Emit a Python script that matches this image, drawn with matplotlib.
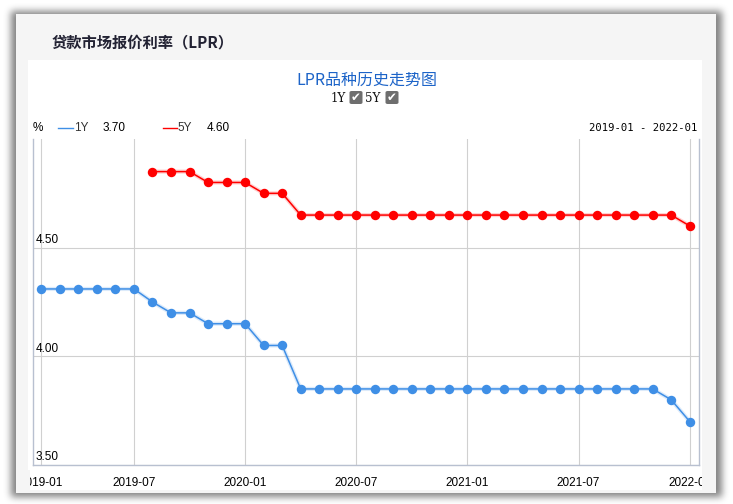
# LPR history chart (1Y / 5Y)

import numpy as np
import matplotlib
matplotlib.use('Agg')
from matplotlib import pyplot as plt
from matplotlib.patches import Rectangle, FancyBboxPatch

plt.rcParams['font.family'] = ['Liberation Sans', 'Noto Sans CJK SC', 'DejaVu Sans']

# data: one point per published month, equally spaced on the axis
dates = ['2019-01', '2019-02', '2019-03', '2019-04', '2019-05', '2019-07',
         '2019-08', '2019-09', '2019-10', '2019-11', '2019-12',
         '2020-01', '2020-02', '2020-03', '2020-04', '2020-05', '2020-06',
         '2020-07', '2020-08', '2020-09', '2020-10', '2020-11', '2020-12',
         '2021-01', '2021-02', '2021-03', '2021-04', '2021-05', '2021-06',
         '2021-07', '2021-08', '2021-09', '2021-10', '2021-11', '2021-12',
         '2022-01']
lpr_1y = [4.31, 4.31, 4.31, 4.31, 4.31, 4.31,
          4.25, 4.20, 4.20, 4.15, 4.15,
          4.15, 4.05, 4.05, 3.85, 3.85, 3.85,
          3.85, 3.85, 3.85, 3.85, 3.85, 3.85,
          3.85, 3.85, 3.85, 3.85, 3.85, 3.85,
          3.85, 3.85, 3.85, 3.85, 3.85, 3.80,
          3.70]
lpr_5y = [None, None, None, None, None, None,
          4.85, 4.85, 4.85, 4.80, 4.80,
          4.80, 4.75, 4.75, 4.65, 4.65, 4.65,
          4.65, 4.65, 4.65, 4.65, 4.65, 4.65,
          4.65, 4.65, 4.65, 4.65, 4.65, 4.65,
          4.65, 4.65, 4.65, 4.65, 4.65, 4.65,
          4.60]
tick_dates = ['2019-01', '2019-07', '2020-01', '2020-07', '2021-01', '2021-07', '2022-01']
y_ticks = [3.50, 4.00, 4.50]

blue = '#3f8fe6'
red = '#ff0000'
W, H = 733, 504

fig = plt.figure(figsize=(W / 100, H / 100), dpi=100)
fig.patch.set_facecolor('white')

def px(x0, y0, x1, y1):  # pixel box -> figure fractions
    return x0 / W, 1 - y1 / H, (x1 - x0) / W, (y1 - y0) / H

def box_blur(a, r, axis):
    c = np.cumsum(np.pad(a, [(r + 1, r) if i == axis else (0, 0) for i in range(2)]), axis=axis)
    if axis == 0:
        return (c[2 * r + 1:] - c[:-2 * r - 1]) / (2 * r + 1)
    return (c[:, 2 * r + 1:] - c[:, :-2 * r - 1]) / (2 * r + 1)

# blurred drop shadow round the outer box
mask = np.zeros((H, W))
mask[11:497, 11:722] = 1.0
for _ in range(3):
    mask = box_blur(box_blur(mask, 3, 0), 3, 1)
shadow = np.zeros((H, W, 4))
shadow[..., :3] = 0.35
shadow[..., 3] = mask * 0.75
fig.figimage(shadow, 0, 0, origin='upper', zorder=-4)

x, y, w, h = px(16, 14, 716, 493)
fig.patches.append(Rectangle((x, y), w, h, transform=fig.transFigure,
                             facecolor='#f5f5f5', edgecolor='none', zorder=-2))
x, y, w, h = px(28, 60, 702, 490)
fig.patches.append(Rectangle((x, y), w, h, transform=fig.transFigure,
                             facecolor='white', edgecolor='none', zorder=-1))
# side strips hide tick labels running past the white panel
for x0, x1 in [(16, 30), (702, 716)]:
    x, y, w, h = px(x0, 470, x1, 490)
    fig.patches.append(Rectangle((x, y), w, h, transform=fig.transFigure,
                                 facecolor='#f5f5f5', edgecolor='none', zorder=10))

fig.text(52 / W, 1 - 42 / H, '贷款市场报价利率（LPR）', fontsize=11, fontweight='bold',
         color='#222233', va='center', ha='left', family=['Noto Sans CJK SC', 'DejaVu Sans'])
fig.text(367 / W, 1 - 80 / H, 'LPR品种历史走势图', fontsize=11.5, color='#1d64c8',
         va='center', ha='center', family=['Noto Sans CJK SC', 'DejaVu Sans'])

# series toggles with check boxes
for lab, xt, xb in [('1Y', 338, 356), ('5Y', 373, 392)]:
    fig.text(xt / W, 1 - 98 / H, lab, fontsize=8.5, color='#111111', va='center', ha='center',
             family=['DejaVu Serif'])
    bx, by, bw, bh = px(xb - 6.5, 91, xb + 6.5, 104)
    fig.patches.append(FancyBboxPatch((bx, by), bw, bh, transform=fig.transFigure,
                                      boxstyle='round,pad=0,rounding_size=0.003',
                                      facecolor='#6e6e6e', edgecolor='none'))
    fig.text(xb / W, 1 - 97.5 / H, '✔', fontsize=8.5, color='white', va='center', ha='center',
             family=['DejaVu Sans'])

# header line above the plot
hy = 1 - 128 / H
fig.text(33 / W, hy, '%', fontsize=8.5, va='center', ha='left')
fig.lines.append(plt.Line2D([58 / W, 73 / W], [hy, hy], transform=fig.transFigure, color=blue, lw=1))
fig.text(74 / W, hy, '1Y', fontsize=8.5, va='center', ha='left', color='#333333')
fig.text(103 / W, hy, '%.2f' % lpr_1y[-1], fontsize=8.5, va='center', ha='left')
fig.lines.append(plt.Line2D([163 / W, 177 / W], [hy, hy], transform=fig.transFigure, color=red, lw=1))
fig.text(177 / W, hy, '5Y', fontsize=8.5, va='center', ha='left', color='#333333')
fig.text(207 / W, hy, '%.2f' % lpr_5y[-1], fontsize=8.5, va='center', ha='left')
fig.text(697 / W, hy, dates[0] + ' - ' + dates[-1], fontsize=7.6, va='center', ha='right',
         family=['DejaVu Sans Mono'])

ax = fig.add_axes(px(33, 139, 699, 465))
ax.set_facecolor('white')
xs = np.arange(len(dates))
y1 = np.array(lpr_1y, dtype=float)
y5 = np.array([np.nan if v is None else v for v in lpr_5y], dtype=float)

for ys, c in [(y1, blue), (y5, red)]:
    ax.plot(xs, ys, color=c, lw=3.0, alpha=0.18, solid_capstyle='round', zorder=2)
    ax.plot(xs, ys, color=c, lw=1.1, marker='o', markersize=6.8, markeredgewidth=0, zorder=3)

ax.set_xlim(-0.45, len(dates) - 0.5)
ax.set_ylim(3.5, 5.0)
ax.set_xticks([dates.index(d) for d in tick_dates])
ax.set_xticklabels(tick_dates, fontsize=8.5)
ax.set_yticks(y_ticks)
ax.set_yticklabels([])
ax.tick_params(length=0, pad=9)
ax.grid(True, color='#d0d0d0', lw=0.8)
ax.set_axisbelow(True)
for v in y_ticks:
    ax.text(-0.3, v + 0.008, '%.2f' % v, fontsize=8.5, va='bottom', ha='left')
for s in ['left', 'bottom', 'right']:
    ax.spines[s].set_color('#b8c0d0')
    ax.spines[s].set_linewidth(1)
ax.spines['top'].set_visible(False)

plt.savefig('out.png', dpi=100)
